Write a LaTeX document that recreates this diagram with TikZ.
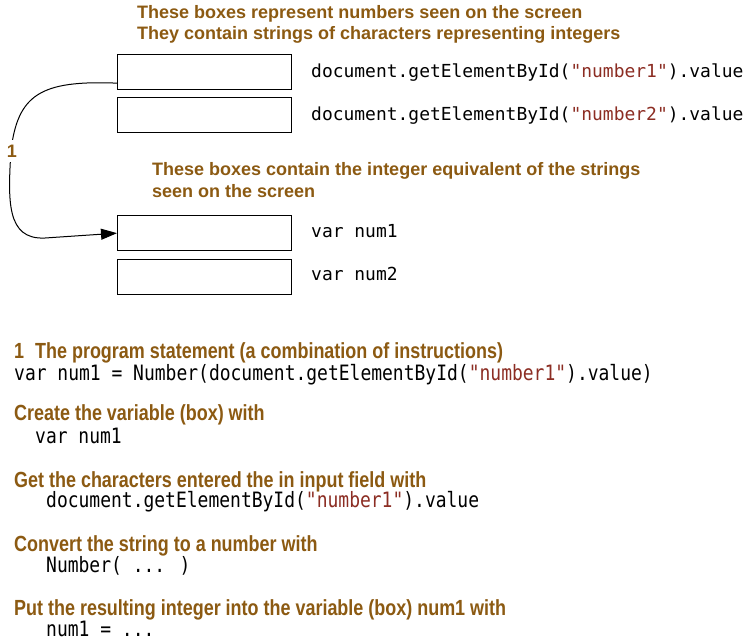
\documentclass[tikz,border=0pt]{standalone}
\usepackage{fontspec}
\setmainfont{Liberation Sans}
\newfontfamily\nhfont{Liberation Sans}[FakeStretch=0.82]
\newfontfamily\mfont{DejaVu Sans Mono}
\newfontfamily\nmfont{DejaVu Sans Mono}[FakeStretch=0.85]
\usetikzlibrary{arrows.meta}
\definecolor{brn}{RGB}{140,90,18}
\definecolor{strred}{RGB}{140,45,35}
\newcommand{\qstr}[1]{\textcolor{strred}{#1}}
\begin{document}
\begin{tikzpicture}[x=1pt,y=-1pt,
  hd/.style={anchor=base west, inner sep=0pt, text=brn, font=\fontsize{18}{21}\selectfont\bfseries},
  nhd/.style={anchor=base west, inner sep=0pt, text=brn, font=\nhfont\bfseries\fontsize{21.9}{24}\selectfont},
  code/.style={anchor=base west, inner sep=0pt, font=\mfont\fontsize{17.95}{20}\selectfont},
  ncode/.style={anchor=base west, inner sep=0pt, font=\nmfont\fontsize{21.15}{23}\selectfont},
  valbox/.style={draw=black, line width=1.3pt, fill=white, minimum width=174pt, minimum height=35pt, inner sep=0pt, anchor=north west},
  conn/.style={draw=black, line width=1pt, -{Triangle[length=16pt,width=11pt]}}
]
\useasboundingbox[fill=white] (0,0) rectangle (749,640);

% headings
\node[hd] (h1a) at (137,18) {These boxes represent numbers seen on the screen};
\node[hd] (h1b) at (137,39) {They contain strings of characters representing integers};
\node[hd] (h2a) at (152,175) {These boxes contain the integer equivalent of the strings};
\node[hd] (h2b) at (152,197) {seen on the screen};

% boxes
\node[valbox] (b1) at (117,54) {};
\node[valbox] (b2) at (117,97) {};
\node[valbox] (b3) at (117,215) {};
\node[valbox] (b4) at (117,259) {};

% labels beside boxes
\node[code] (t1) at (311,77) {document.getElementById(\qstr{"number1"}).value};
\node[code] (t2) at (311,120) {document.getElementById(\qstr{"number2"}).value};
\node[code] (t3) at (311,237) {var num1};
\node[code] (t4) at (311,280) {var num2};

% connector
\coordinate (s) at ([yshift=-11pt]b1.west);
\coordinate (m) at (11,150);
\coordinate (q) at (45,238);
\draw[conn] (s) .. controls (40,80) and (18,95) .. (m)
  .. controls (8,200) and (6,240) .. (q) -- (b3.west);
\node[anchor=base, inner xsep=2pt, inner ysep=5pt, fill=white, text=brn, font=\fontsize{18}{21}\selectfont\bfseries] (lbl) at (12,157) {1};

% explanation
\node[nhd] (e1) at (14,358) {1\hspace{0.5em}The program statement (a combination of instructions)};
\node[ncode] (c1) at (14,380) {var num1 = Number(document.getElementById(\qstr{"number1"}).value)};
\node[nhd] (e2) at (14,420) {Create the variable (box) with};
\node[ncode] (c2) at (35,443) {var num1};
\node[nhd] (e3) at (14,487) {Get the characters entered the in input field with};
\node[ncode] (c3) at (46,507) {document.getElementById(\qstr{"number1"}).value};
\node[nhd] (e4) at (14,551) {Convert the string to a number with};
\node[ncode] (c4) at (46,572) {Number( ... )};
\node[nhd] (e5) at (14,615) {Put the resulting integer into the variable (box) num1 with};
\node[ncode] (c5) at (46,636) {num1 = ...};
\end{tikzpicture}
\end{document}
